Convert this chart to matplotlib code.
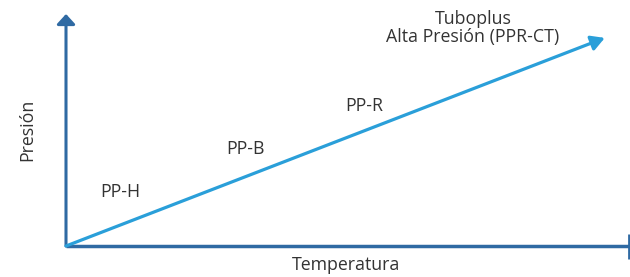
import numpy as np
import matplotlib
matplotlib.use("Agg")
from matplotlib import pyplot as plt

# schematic data (axis-relative units, 0-100)
line_x = [0, 95.7]
line_y = [0, 89.7]
labels = ["PP-H", "PP-B", "PP-R", "Tuboplus\nAlta Presión (PPR-CT)"]
label_x = [9.6, 31.8, 52.9, 72.3]
label_y = [23.3, 41.8, 60.3, 94.0]

axis_col = '#2f6aa3'
line_col = '#2a9fd9'
txt_col = '#333333'
plt.rcParams['font.family'] = ['Open Sans', 'DejaVu Sans']
fs = 12.8

fig = plt.figure(figsize=(6.3, 2.77), dpi=100)
ax = fig.add_axes([66/630, 31/277, 563/630, 232/277])
ax.set_xlim(0, 100)
ax.set_ylim(0, 100)
ax.axis('off')

# axes
ax.annotate('', xy=(0, 100), xytext=(0, 0),
			arrowprops=dict(arrowstyle='-|>,head_length=0.6,head_width=0.55', color=axis_col, lw=2.2, shrinkA=0, shrinkB=0))
ax.plot([0, 100], [0, 0], color=axis_col, lw=2.5, solid_capstyle='butt', clip_on=False)
ax.plot(100, 0, marker='|', ms=18, mew=2, color=axis_col, clip_on=False)

# the line
ax.annotate('', xy=(line_x[1], line_y[1]), xytext=(line_x[0], line_y[0]),
			arrowprops=dict(arrowstyle='-|>,head_length=0.8,head_width=0.45', color=line_col, lw=2.3, shrinkA=0, shrinkB=0))

for t, x, y in zip(labels, label_x, label_y):
	ax.text(x, y, t, ha='center', va='center', fontsize=fs, color=txt_col, linespacing=1.0)

fig.text(346/630, 1 - 265/277, 'Temperatura', ha='center', va='center', fontsize=fs, color=txt_col)
fig.text(27/630, 1 - 130/277, 'Presión', ha='center', va='center', rotation=90, fontsize=fs, color=txt_col)

fig.savefig('out.png', dpi=100)
